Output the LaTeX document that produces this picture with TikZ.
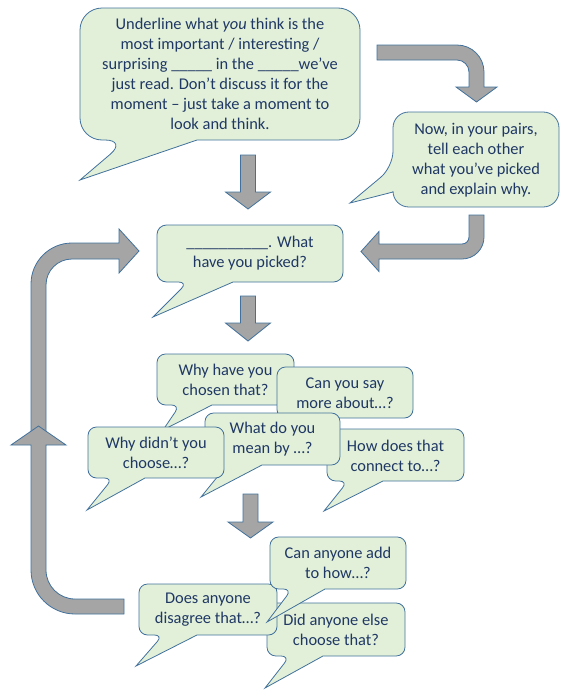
\documentclass[tikz,border=0pt]{standalone}
\usepackage{fontspec}
\setmainfont{Carlito}
\usepackage{tikz}
\definecolor{bbFill}{HTML}{E2F0D9}
\definecolor{bbLine}{HTML}{41719C}
\definecolor{bbText}{HTML}{1F3864}
\definecolor{arGray}{HTML}{A5A5A5}

% bubble with its tail on the bottom edge: x1 y1 x2 y2, tail base a b, tip
\newcommand{\tailbubble}[7]{%
  \pgfmathsetmacro{\bubr}{(#4-#2)/6}
  \draw[bubble] (#6,#4) [rounded corners=\bubr pt] -- (#3,#4) -- (#3,#2) -- (#1,#2) -- (#1,#4) -- (#5,#4) [sharp corners] -- #7 -- cycle;}
% bubble with its tail on the left edge: x1 y1 x2 y2, tail base a b, tip
\newcommand{\sidebubble}[7]{%
  \pgfmathsetmacro{\bubr}{(#4-#2)/6}
  \draw[bubble] (#1,#6) [rounded corners=\bubr pt] -- (#1,#4) -- (#3,#4) -- (#3,#2) -- (#1,#2) -- (#1,#5) [sharp corners] -- #7 -- cycle;}
% straight block arrow pointing down: centre x, top, head base, tip
\newcommand{\downblock}[4]{%
  \draw[blockarrow] ({#1-7.5},#2) -- ({#1+7.5},#2) -- ({#1+7.5},#3) -- ({#1+22.5},#3) -- (#1,#4) -- ({#1-22.5},#3) -- ({#1-7.5},#3) -- cycle;}

\begin{document}
\begin{tikzpicture}[
  x=1pt, y=-1pt,
  bubble/.style={draw=bbLine, fill=bbFill, line width=0.8pt},
  say/.style={align=center, inner sep=0pt, text=bbText, font=\fontsize{16.4}{20}\selectfont},
  blockarrow/.style={draw=bbLine, fill=arGray, line width=0.8pt, line join=miter},
]
\useasboundingbox (0,0) rectangle (570,699);

% block arrows
\downblock{248}{155}{192}{209}
\downblock{248}{296}{323}{341}
\downblock{250.5}{494}{522}{538}
\draw[blockarrow] (377,45) -- (457,45) .. controls (471.9,45) and (484,57.1) .. (484,72) -- (484,87) -- (497,87) -- (476.5,102) -- (456,87) -- (469,87) -- (469,72) .. controls (469,65.4) and (463.6,60) .. (457,60) -- (377,60) -- cycle;
\draw[blockarrow] (469,215) -- (484,215) -- (484,237) .. controls (484,249.2) and (474.2,259) .. (462,259) -- (379,259) -- (379,271.5) -- (361,251.5) -- (379,231.5) -- (379,244) -- (462,244) .. controls (465.9,244) and (469,240.9) .. (469,237) -- cycle;
\draw[blockarrow] (31,436) -- (31,284) .. controls (31,261.4) and (49.4,243) .. (72,243) -- (119,243) -- (119,229) -- (139,251) -- (119,273) -- (119,259) -- (72,259) .. controls (57.6,259) and (46,270.6) .. (46,285) -- (46,436) -- cycle;
\draw[blockarrow] (124,599) -- (124,614) -- (75,614) .. controls (50.7,614) and (31,594.3) .. (31,570) -- (31,445) -- (11,445) -- (38.5,426) -- (66,445) -- (46,445) -- (46,570) .. controls (46,586) and (59,599) .. (75,599) -- cycle;

% first prompts
\tailbubble{80}{8}{360}{140}{127}{197}{(80,180)}
\node[say] (underline) at (220,74) {Underline what \textit{you} think is the\\most important / interesting /\\surprising \_\_\_\_\_ in the \_\_\_\_\_we’ve\\just read. Don’t discuss it for the\\moment – just take a moment to\\look and think.};
\sidebubble{393}{112}{559}{207}{167}{192}{(350,203)}
\node[say] (pairs) at (476,160) {Now, in your pairs,\\tell each other\\what you’ve picked\\and explain why.};
\tailbubble{157}{225}{343}{282}{188}{233}{(153,317)}
\node[say] (picked) at (250,253) {\_\_\_\_\_\_\_\_\_\_. What\\have you picked?};

% follow-up questions
\tailbubble{157}{354}{294}{405}{180}{212}{(163,430)}
\node[say] (chosen) at (225.5,380) {Why have you\\chosen that?};
\tailbubble{277}{367}{413}{418}{300}{335}{(278,440)}
\node[say] (saymore) at (345,393) {Can you say\\more about…?};
\tailbubble{327}{429}{464}{481}{348}{383}{(324,511)}
\node[say] (connect) at (395.5,456) {How does that\\connect to…?};
\tailbubble{205}{413}{340}{465}{227}{262}{(201,497)}
\node[say] (meanby) at (272.5,439) {What do you\\mean by …?};
\tailbubble{88}{427}{224}{478}{113}{145}{(87,510)}
\node[say] (didnt) at (156,453) {Why didn’t you\\choose…?};

% widening the discussion
\tailbubble{267}{603}{405}{656}{290}{323}{(265,688)}
\node[say] (else) at (336,630) {Did anyone else\\choose that?};
\tailbubble{139}{584}{277}{635}{163}{197}{(136,666)}
\node[say] (disagree) at (208,610) {Does anyone\\disagree that…?};
\tailbubble{270}{537}{406}{589}{292}{325}{(267,622)}
\node[say] (addto) at (338,563) {Can anyone add\\to how…?};
\end{tikzpicture}
\end{document}
